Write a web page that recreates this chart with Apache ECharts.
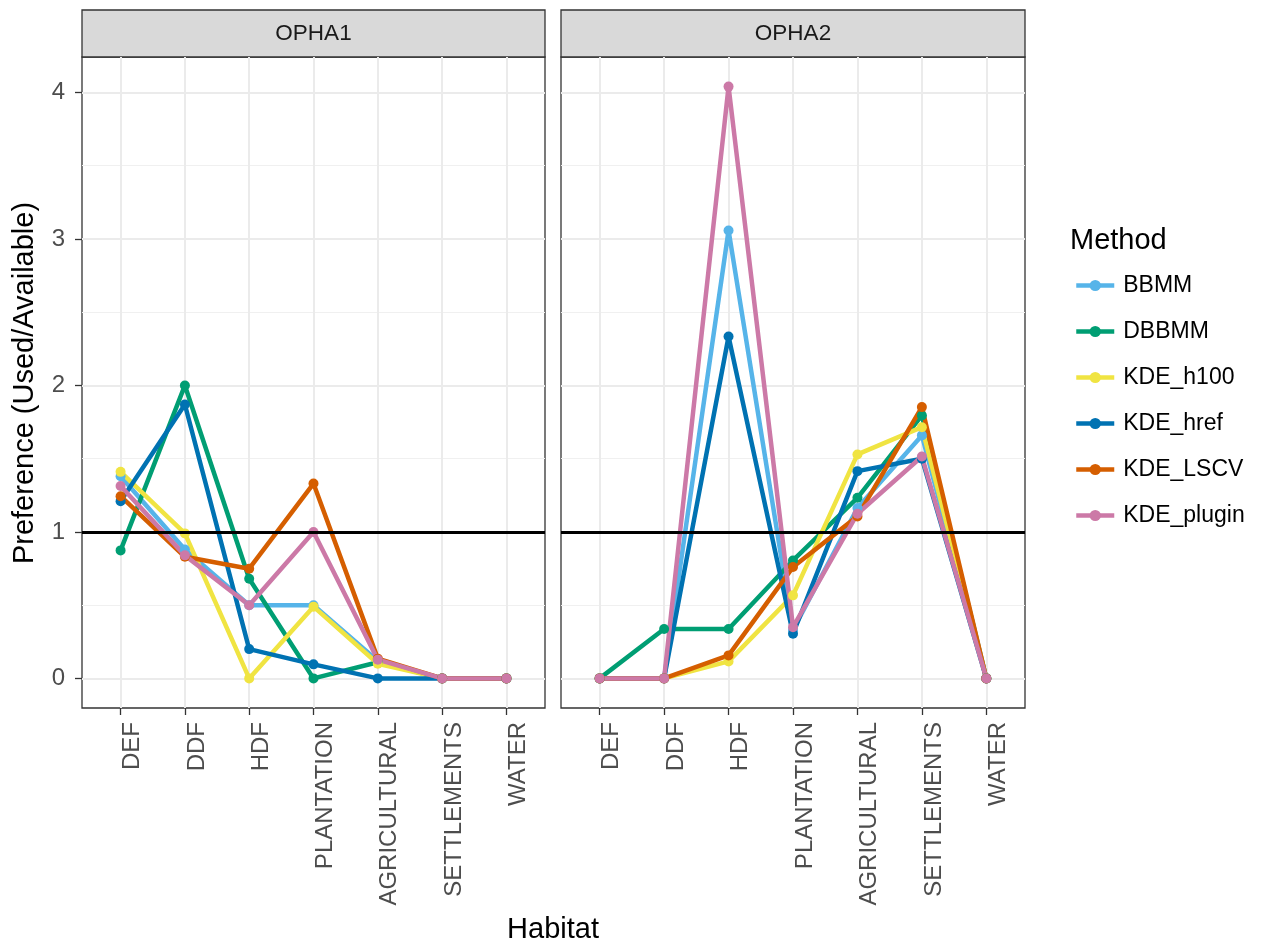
<!DOCTYPE html>
<html>
<head>
<meta charset="utf-8">
<script src="https://cdn.jsdelivr.net/npm/echarts@6/dist/echarts.min.js"></script>
<style>
  html, body { margin: 0; padding: 0; background: #fff; }
  #main { width: 1262px; height: 945px; }
</style>
</head>
<body>
<div id="main"></div>
<script>
// habitat categories (x axis) and methods (legend)
const categories = ['DEF', 'DDF', 'HDF', 'PLANTATION', 'AGRICULTURAL', 'SETTLEMENTS', 'WATER'];
const methods = ['BBMM', 'DBBMM', 'KDE_h100', 'KDE_href', 'KDE_LSCV', 'KDE_plugin'];
const panels = ['OPHA1', 'OPHA2'];
const yTicks = [0, 1, 2, 3, 4];
const yMinor = [0.5, 1.5, 2.5, 3.5];

// OPHA1 values, one array per method
const opha1_BBMM = [1.38, 0.88, 0.50, 0.50, 0.12, 0, 0];
const opha1_DBBMM = [0.874, 2.00, 0.68, 0, 0.11, 0, 0];
const opha1_h100 = [1.41, 0.99, 0, 0.49, 0.10, 0, 0];
const opha1_href = [1.21, 1.87, 0.20, 0.096, 0, 0, 0];
const opha1_LSCV = [1.244, 0.83, 0.749, 1.33, 0.135, 0, 0];
const opha1_plugin = [1.313, 0.84, 0.50, 1.00, 0.128, 0, 0];

// OPHA2 values
const opha2_BBMM = [0, 0, 3.058, 0.33, 1.163, 1.659, 0];
const opha2_DBBMM = [0, 0.337, 0.337, 0.805, 1.233, 1.795, 0];
const opha2_h100 = [0, 0, 0.116, 0.567, 1.529, 1.715, 0];
const opha2_href = [0, 0, 2.334, 0.305, 1.415, 1.50, 0];
const opha2_LSCV = [0, 0, 0.157, 0.76, 1.106, 1.852, 0];
const opha2_plugin = [0, 0, 4.04, 0.35, 1.124, 1.515, 0];

const colors = ['#56B4E9', '#009E73', '#F0E442', '#0072B2', '#D55E00', '#CC79A7'];
const FONT = 'Liberation Sans, Arial, sans-serif';

const panelData = [
  [opha1_BBMM, opha1_DBBMM, opha1_h100, opha1_href, opha1_LSCV, opha1_plugin],
  [opha2_BBMM, opha2_DBBMM, opha2_h100, opha2_href, opha2_LSCV, opha2_plugin]
];

const chart = echarts.init(document.getElementById('main'), null, { renderer: 'canvas' });

const grids = [
  { left: 82, top: 57, width: 463, height: 651 },
  { left: 561, top: 57, width: 464, height: 651 }
];

const xAxes = [], yAxes = [], series = [];
grids.forEach(function (g, p) {
  g.show = true;
  g.borderColor = '#333333';
  g.borderWidth = 1.3;
  g.backgroundColor = '#fff';
  xAxes.push({
    type: 'value', gridIndex: p, min: -0.6, max: 6.6,
    axisLine: { show: false, onZero: false },
    axisTick: { show: true, length: 7, customValues: [0, 1, 2, 3, 4, 5, 6], lineStyle: { color: '#333', width: 1.3 } },
    axisLabel: {
      customValues: [0, 1, 2, 3, 4, 5, 6],
      rotate: 90, margin: 14, verticalAlign: 'top',
      color: '#4D4D4D', fontSize: 24, fontFamily: FONT,
      formatter: function (v) { return categories[Math.round(v)]; }
    },
    splitLine: { show: true, lineStyle: { color: '#EBEBEB', width: 2 } }
  });
  // major y axis
  yAxes.push({
    type: 'value', gridIndex: p, min: -0.202, max: 4.242,
    axisLine: { show: false, onZero: false },
    axisTick: { show: p === 0, length: 7, customValues: yTicks, lineStyle: { color: '#333', width: 1.3 } },
    axisLabel: {
      show: p === 0, customValues: yTicks, margin: 17,
      color: '#4D4D4D', fontSize: 24, fontFamily: FONT
    },
    splitLine: { show: true, lineStyle: { color: '#EBEBEB', width: 2 } }
  });
  // minor y grid lines
  yAxes.push({
    type: 'value', gridIndex: p, min: -0.202, max: 4.242, position: 'right',
    axisLine: { show: false, onZero: false },
    axisTick: { show: false, customValues: yMinor },
    axisLabel: { show: false, customValues: yMinor },
    splitLine: { show: true, lineStyle: { color: '#F0F0F0', width: 1 } }
  });

  panelData[p].forEach(function (vals, m) {
    const s = {
      name: methods[m],
      type: 'line',
      xAxisIndex: p,
      yAxisIndex: p * 2,
      data: vals.map(function (v, i) { return [i, v]; }),
      symbol: 'circle',
      symbolSize: 10,
      color: colors[m],
      lineStyle: { width: 4.5 },
      emphasis: { disabled: true },
      z: 3
    };
    if (m === methods.length - 1) {
      s.markLine = {
        silent: true, symbol: 'none', label: { show: false },
        lineStyle: { color: '#000', width: 2.8, type: 'solid' },
        data: [{ yAxis: 1 }]
      };
    }
    series.push(s);
  });
});

const graphics = [];
panels.forEach(function (name, p) {
  const g = grids[p];
  graphics.push({
    type: 'rect',
    shape: { x: g.left, y: 10, width: g.width, height: 47 },
    style: { fill: '#D9D9D9', stroke: '#333333', lineWidth: 1.3 }
  });
  graphics.push({
    type: 'text', x: g.left + g.width / 2, y: 33.5,
    style: { text: name, fill: '#1A1A1A', font: '22.5px ' + FONT, textAlign: 'center', textVerticalAlign: 'middle' }
  });
});
graphics.push({
  type: 'text', x: 25, y: 383, rotation: Math.PI / 2,
  style: { text: 'Preference (Used/Available)', fill: '#000', font: '29px ' + FONT, textAlign: 'center', textVerticalAlign: 'middle' }
});
graphics.push({
  type: 'text', x: 553, y: 930,
  style: { text: 'Habitat', fill: '#000', font: '29px ' + FONT, textAlign: 'center', textVerticalAlign: 'middle' }
});
graphics.push({
  type: 'text', x: 1070, y: 241,
  style: { text: 'Method', fill: '#000', font: '29px ' + FONT, textAlign: 'left', textVerticalAlign: 'middle' }
});

chart.setOption({
  animation: false,
  backgroundColor: '#fff',
  color: colors,
  grid: grids,
  xAxis: xAxes,
  yAxis: yAxes,
  legend: {
    data: methods,
    orient: 'vertical',
    left: 1069, top: 269,
    itemWidth: 38, itemHeight: 14, itemGap: 23,
    lineStyle: { width: 4.5 },
    textStyle: { color: '#000', fontSize: 23, fontFamily: FONT, padding: [0, 0, 0, 4] }
  },
  graphic: graphics,
  series: series
});
</script>
</body>
</html>
